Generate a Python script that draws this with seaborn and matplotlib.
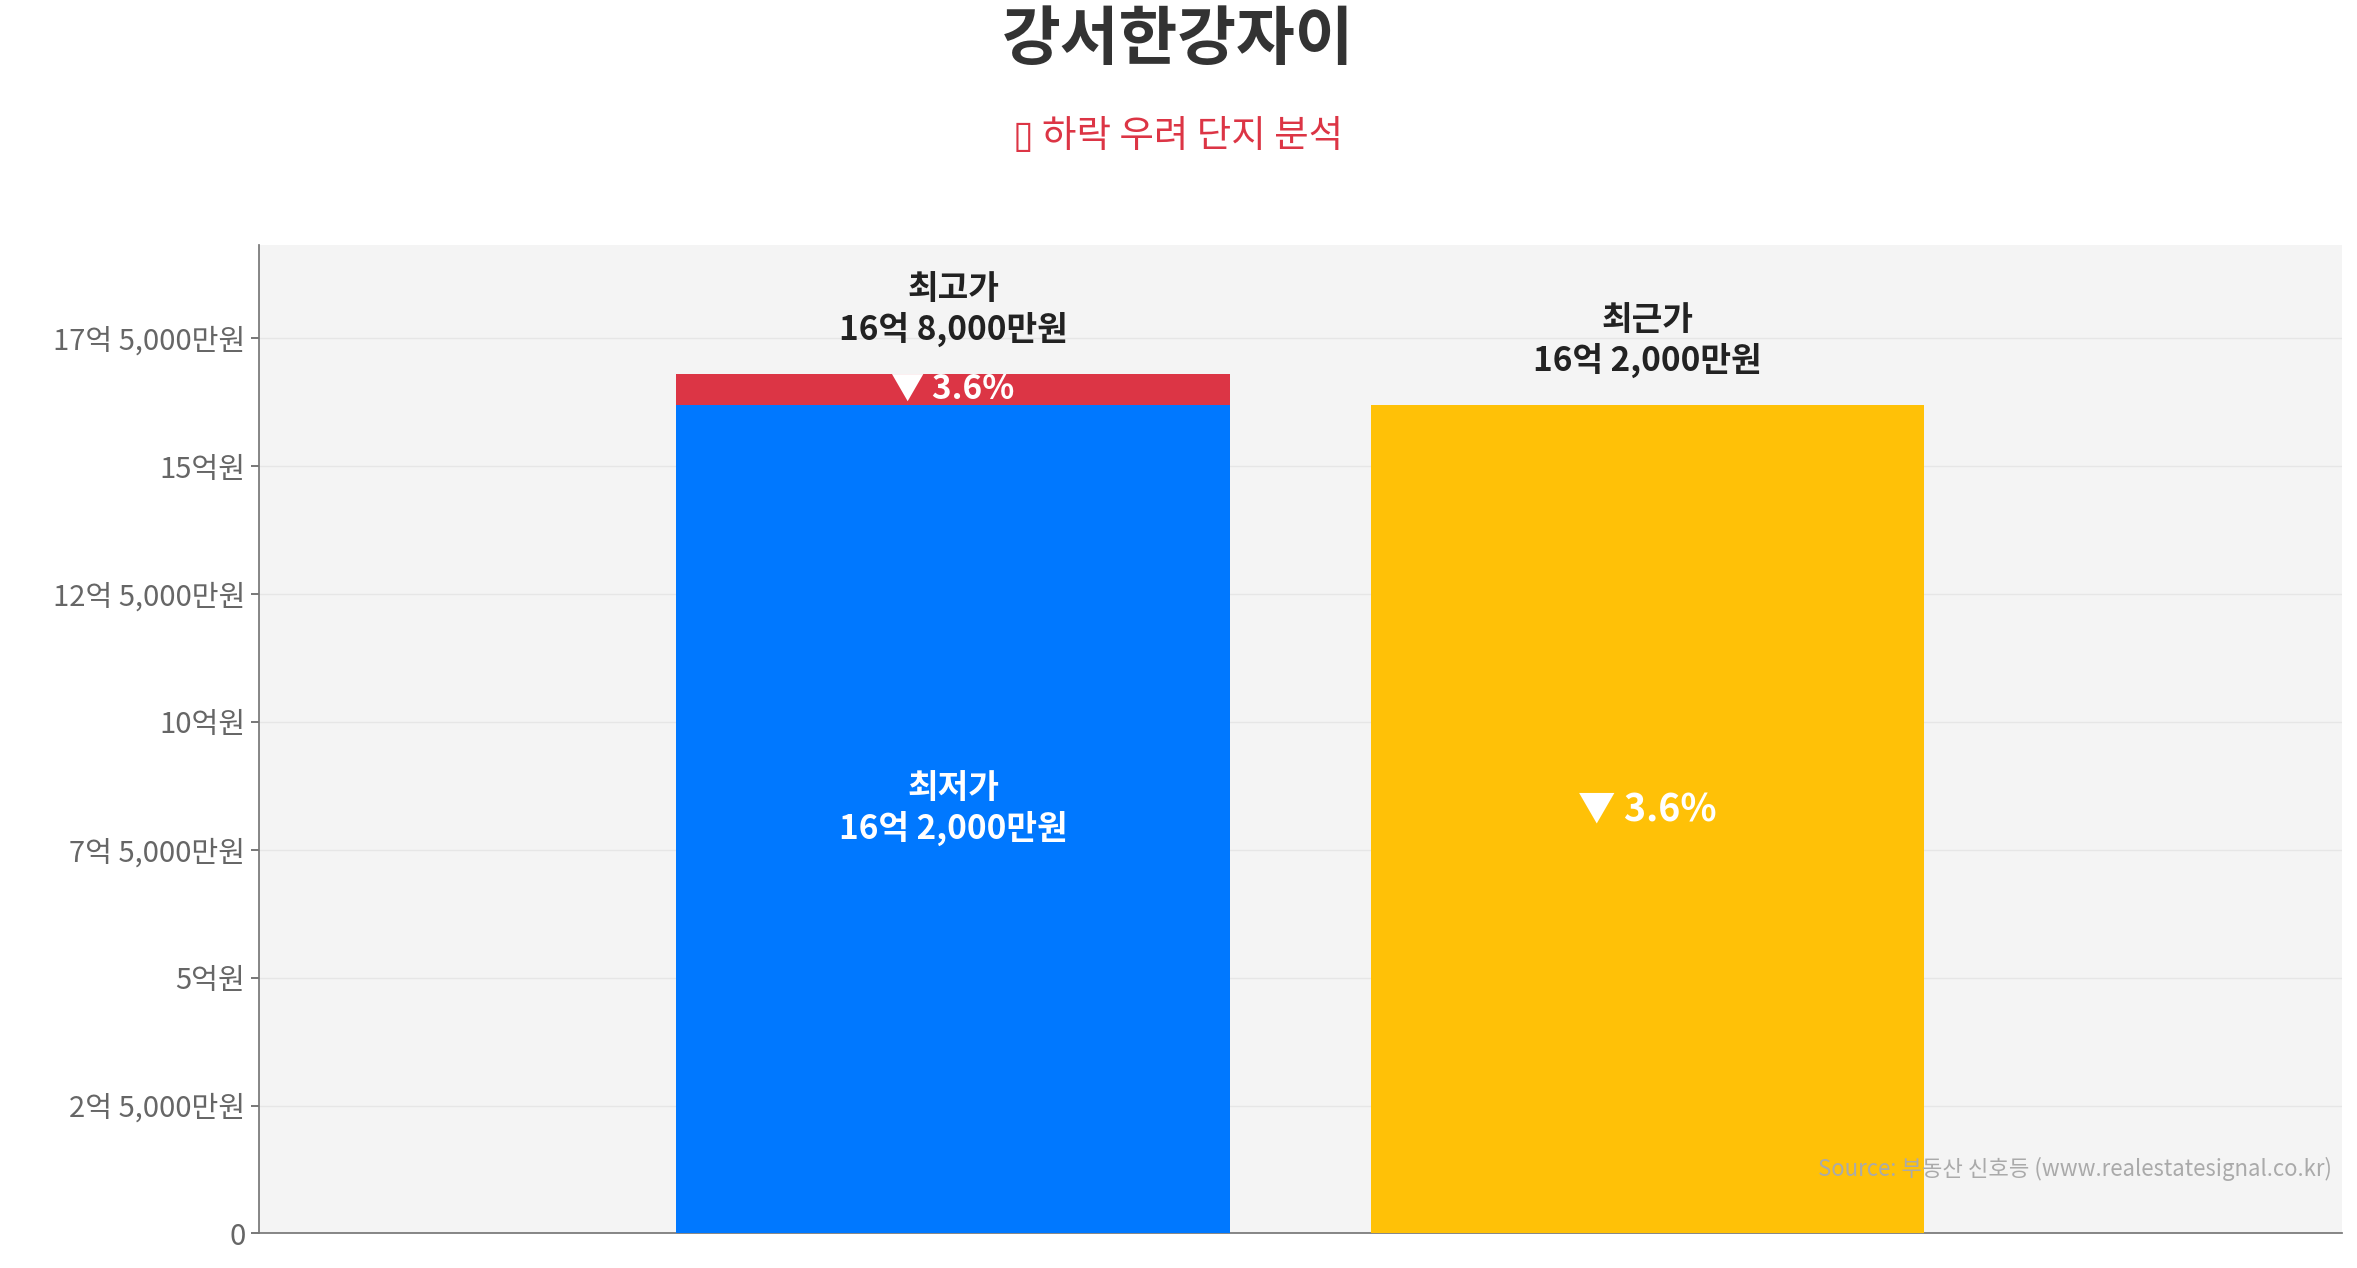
import matplotlib
matplotlib.use("Agg")
import matplotlib.pyplot as plt
import seaborn as sns
import pandas as pd

categories = ["최저가", "최근가"]
low_price = 16.2      # 억
high_price = 16.8     # 억
recent_price = 16.2   # 억
drop_pct = 3.6
tick_vals = [0, 2.5, 5, 7.5, 10, 12.5, 15, 17.5]
tick_labels = ["0", "2억 5,000만원", "5억원", "7억 5,000만원", "10억원",
               "12억 5,000만원", "15억원", "17억 5,000만원"]

sns.set_theme(style="white")
plt.rcParams['font.family'] = ['Noto Sans CJK KR', 'DejaVu Sans']

fig = plt.figure(figsize=(23.57, 12.68), dpi=100)
ax = fig.add_axes([0.1097, 0.0273, 0.8839, 0.7793])
ax.set_facecolor("#f4f4f4")

df = pd.DataFrame({"cat": categories, "val": [low_price, recent_price]})
sns.barplot(data=df, x="cat", y="val", hue="cat", palette=["#0078ff", "#ffc107"],
            width=0.797, legend=False, ax=ax, saturation=1, zorder=3, linewidth=0)
ax.bar(0, high_price - low_price, bottom=low_price, width=0.797, color="#dc3545",
       zorder=3, linewidth=0)

ax.set_xlim(-1, 2)
ax.set_ylim(0, 19.32)
ax.set_yticks(tick_vals)
ax.set_yticklabels(tick_labels, fontsize=21, color="#666666")
ax.set_xticks([])
ax.set_xlabel("")
ax.set_ylabel("")
ax.grid(axis="y", color="#e6e6e6", linewidth=1, zorder=0)
ax.tick_params(axis="y", length=6, color="#666666", left=True)
for s in ["top", "right"]:
    ax.spines[s].set_visible(False)
for s in ["left", "bottom"]:
    ax.spines[s].set_color("#777777")

txt = dict(ha="center", va="center", fontsize=24, fontweight="bold")
ax.text(0, high_price + 1.25, "최고가\n16억 8,000만원", color="#222222", linespacing=1.2, **txt)
ax.text(0, (low_price + high_price) / 2, f"▼ {drop_pct}%", color="white", **txt)
ax.text(0, 8.3, "최저가\n16억 2,000만원", color="white", linespacing=1.2, **txt)
ax.text(1, recent_price + 1.25, "최근가\n16억 2,000만원", color="#222222", linespacing=1.2, **txt)
ax.text(1, 8.3, f"▼ {drop_pct}%", color="white", fontsize=27, fontweight="bold", ha="center", va="center")
ax.text(0.995, 0.065, "Source: 부동산 신호등 (www.realestatesignal.co.kr)", transform=ax.transAxes,
        ha="right", va="center", fontsize=16, color="#aaaaaa")

fig.text(0.5, 0.968, "강서한강자이", ha="center", va="center", fontsize=46, fontweight="bold", color="#333333")
fig.text(0.5, 0.892, "▯ 하락 우려 단지 분석", ha="center", va="center", fontsize=27, color="#dc3545")

fig.savefig("out.png", dpi=100)
